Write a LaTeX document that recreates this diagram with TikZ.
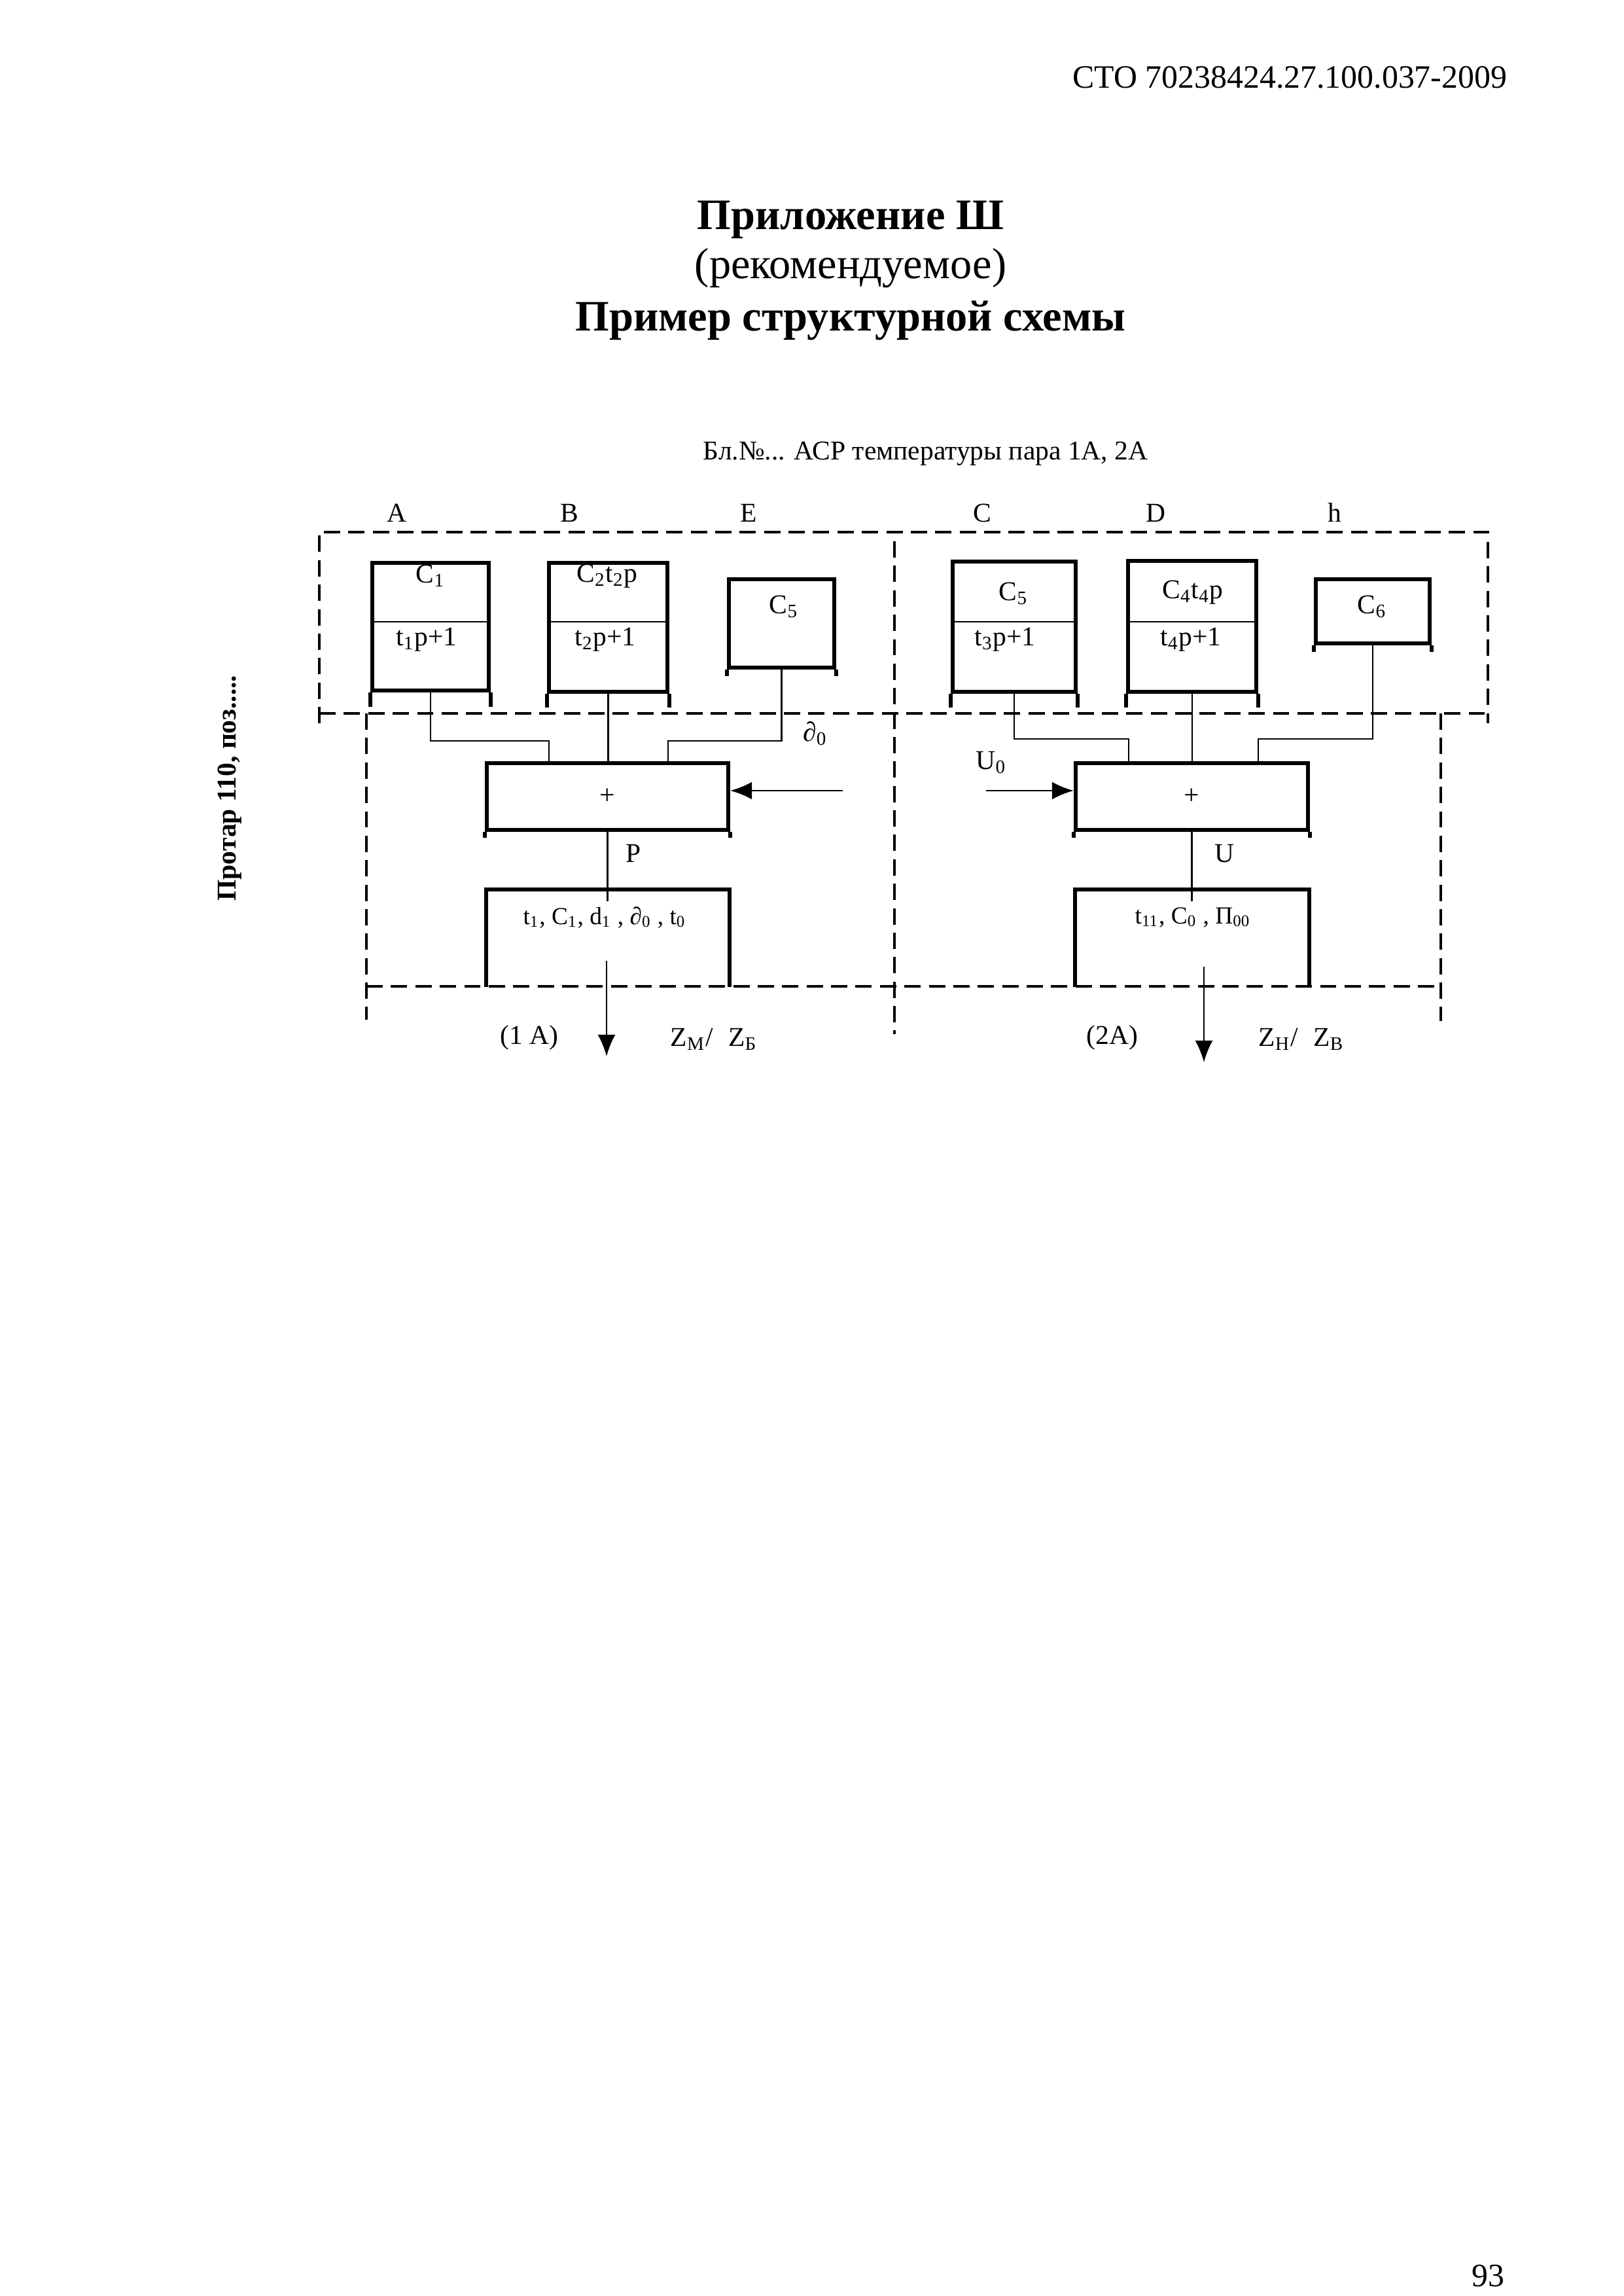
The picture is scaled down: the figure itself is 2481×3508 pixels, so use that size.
\documentclass[tikz,border=0pt]{standalone}
\usepackage{fontspec}
\setmainfont{Liberation Serif}
\usetikzlibrary{arrows.meta,fit}
\begin{document}
\begin{tikzpicture}[x=0.084643mm,y=-0.084643mm,
  blk/.style={draw, line width=1.5pt, inner sep=0pt},
  thk/.style={line width=1.5pt},
  thn/.style={line width=0.7pt},
  dsh/.style={line width=0.8pt, dash pattern=on 6pt off 3pt},
  arr/.style={line width=0.7pt, -{Latex[length=2.8mm,width=2.3mm]}},
  lbl/.style={font=\fontsize{10}{12}\selectfont, inner sep=0pt},
  sml/.style={font=\fontsize{9}{11}\selectfont, inner sep=0pt},
]
\useasboundingbox (0,0) rectangle (2481,3508);

% header, titles
\node[anchor=base east, font=\fontsize{12}{14}\selectfont, inner sep=0pt] (hdr) at (2304,134) {СТО 70238424.27.100.037-2009};
\node[anchor=base, font=\bfseries\fontsize{16}{18}\selectfont, inner sep=0pt] (t1) at (1300,350) {Приложение Ш};
\node[anchor=base, font=\fontsize{16}{18}\selectfont, inner sep=0pt] (t2) at (1300,425) {(рекомендуемое)};
\node[anchor=base, font=\bfseries\fontsize{16}{18}\selectfont, inner sep=0pt] (t3) at (1300,505) {Пример структурной схемы};
\node[anchor=base west, lbl] (cap) at (1074,702) {Бл.№... АСР температуры пара 1А, 2А};
\node[rotate=90, font=\bfseries\fontsize{10}{12}\selectfont, inner sep=0pt] (rot) at (351,1204) {Протар 110, поз.....};
\node[anchor=base east, font=\fontsize{12}{14}\selectfont, inner sep=0pt] (pg) at (2300,3493) {93};

% column letters
\node[anchor=base, lbl] (lA) at (606,797) {A};
\node[anchor=base, lbl] (lB) at (870,797) {B};
\node[anchor=base, lbl] (lE) at (1144,797) {E};
\node[anchor=base, lbl] (lC) at (1501,797) {C};
\node[anchor=base, lbl] (lD) at (1766,797) {D};
\node[anchor=base, lbl] (lh) at (2040,797) {h};

% dashed frames
\draw[dsh] (488,1105) -- (488,813) -- (2274,813) -- (2274,1105);
\draw[dsh] (488,1090) -- (2274,1090);
\draw[dsh] (560,1090) -- (560,1558);
\draw[dsh] (560,1507) -- (2202,1507);
\draw[dsh] (2202,1090) -- (2202,1560);
\draw[dsh] (1367,827) -- (1367,1580);

% blocks
\node[blk, fit={(569,860)(747,1055)}] (A) {};
\draw[thk] (A.south west) -- ++(0,22) (A.south east) -- ++(0,22);
\draw[thn] (569,950) -- (747,950);
\node[lbl] (A1) at (658,880) {C\textsubscript{1}};
\node[lbl] (A2) at (652,977) {t\textsubscript{1}p+1};

\node[blk, fit={(839,860)(1020,1057)}] (B) {};
\draw[thk] (B.south west) -- ++(0,21) (B.south east) -- ++(0,21);
\draw[thn] (839,950) -- (1020,950);
\node[lbl] (B1) at (928,880) {C\textsubscript{2}t\textsubscript{2}p};
\node[lbl] (B2) at (925,977) {t\textsubscript{2}p+1};

\node[blk, fit={(1114,885)(1275,1020)}] (E) {};
\draw[thk] (E.south west) -- ++(0,10) (E.south east) -- ++(0,10);
\node[lbl] (E1) at (1198,927) {C\textsubscript{5}};

\node[blk, fit={(1456,858)(1644,1057)}] (C) {};
\draw[thk] (C.south west) -- ++(0,21) (C.south east) -- ++(0,21);
\draw[thn] (1456,950) -- (1644,950);
\node[lbl] (C1) at (1549,907) {C\textsubscript{5}};
\node[lbl] (C2) at (1536,977) {t\textsubscript{3}p+1};

\node[blk, fit={(1724,857)(1920,1057)}] (D) {};
\draw[thk] (D.south west) -- ++(0,21) (D.south east) -- ++(0,21);
\draw[thn] (1724,950) -- (1920,950);
\node[lbl] (D1) at (1823,905) {C\textsubscript{4}t\textsubscript{4}p};
\node[lbl] (D2) at (1820,977) {t\textsubscript{4}p+1};

\node[blk, fit={(2011,885)(2185,983)}] (H) {};
\draw[thk] (H.south west) -- ++(0,10) (H.south east) -- ++(0,10);
\node[lbl] (H1) at (2097,927) {C\textsubscript{6}};

% summers
\node[blk, fit={(744,1166)(1113,1268)}] (S1) {};
\draw[thk] (S1.south west) -- ++(0,9) (S1.south east) -- ++(0,9);
\node[lbl] (S1p) at (S1.center) {+};
\node[blk, fit={(1644,1166)(1999,1268)}] (S2) {};
\draw[thk] (S2.south west) -- ++(0,9) (S2.south east) -- ++(0,9);
\node[lbl] (S2p) at (S2.center) {+};

% output blocks
\node[inner sep=0pt, fit={(744,1360)(1114,1507)}] (O1) {};
\draw[thk] (O1.south west) -- (O1.north west) -- (O1.north east) -- (O1.south east);
\node[sml] (O1t) at (924,1402) {t\textsubscript{1}, C\textsubscript{1}, d\textsubscript{1} , ∂\textsubscript{0} , t\textsubscript{0}};
\node[inner sep=0pt, fit={(1644,1360)(2000,1507)}] (O2) {};
\draw[thk] (O2.south west) -- (O2.north west) -- (O2.north east) -- (O2.south east);
\node[sml] (O2t) at (1823,1402) {t\textsubscript{11}, C\textsubscript{0} , П\textsubscript{00}};

% connectors left
\coordinate (a1) at (839,1132);
\draw[thn] (A.south) |- (a1) -- (a1 |- S1.north);
\draw[thn] (B.south) -- (B.south |- S1.north);
\coordinate (e1) at (1021,1132);
\draw[thn] (E.south) |- (e1) -- (e1 |- S1.north);
\coordinate (d0) at (1288,1208);
\draw[arr] (d0) -- (d0 -| S1.east);
\node[lbl] (d0l) at (1246,1121) {∂\textsubscript{0}};

% connectors right
\coordinate (c1) at (1725,1129);
\draw[thn] (C.south) |- (c1) -- (c1 |- S2.north);
\draw[thn] (D.south) -- (D.south |- S2.north);
\coordinate (h1) at (1923,1129);
\draw[thn] (H.south) |- (h1) -- (h1 |- S2.north);
\coordinate (u0) at (1507,1208);
\draw[arr] (u0) -- (u0 -| S2.west);
\node[lbl] (u0l) at (1515,1165) {U\textsubscript{0}};

% summer -> output
\coordinate (p1) at (931,1377);
\draw[thn] (S1.south) -- (S1.south |- p1);
\node[lbl] (Pl) at (968,1304) {P};
\coordinate (p2) at (1828,1377);
\draw[thn] (S2.south) -- (S2.south |- p2);
\node[lbl] (Ul) at (1871,1304) {U};

% outputs
\coordinate (z1a) at (927,1468);
\coordinate (z1b) at (927,1614);
\draw[arr] (z1a) -- (z1b);
\coordinate (z2a) at (1840,1477);
\coordinate (z2b) at (1840,1623);
\draw[arr] (z2a) -- (z2b);
\node[lbl] (k1) at (809,1585) {(1 A)};
\node[lbl, anchor=west] (zl1) at (1024,1588) {Z\textsubscript{М}/\hspace{2mm}Z\textsubscript{Б}};
\node[lbl] (k2) at (1700,1585) {(2A)};
\node[lbl, anchor=west] (zl2) at (1923,1588) {Z\textsubscript{Н}/\hspace{2mm}Z\textsubscript{В}};
\end{tikzpicture}
\end{document}
